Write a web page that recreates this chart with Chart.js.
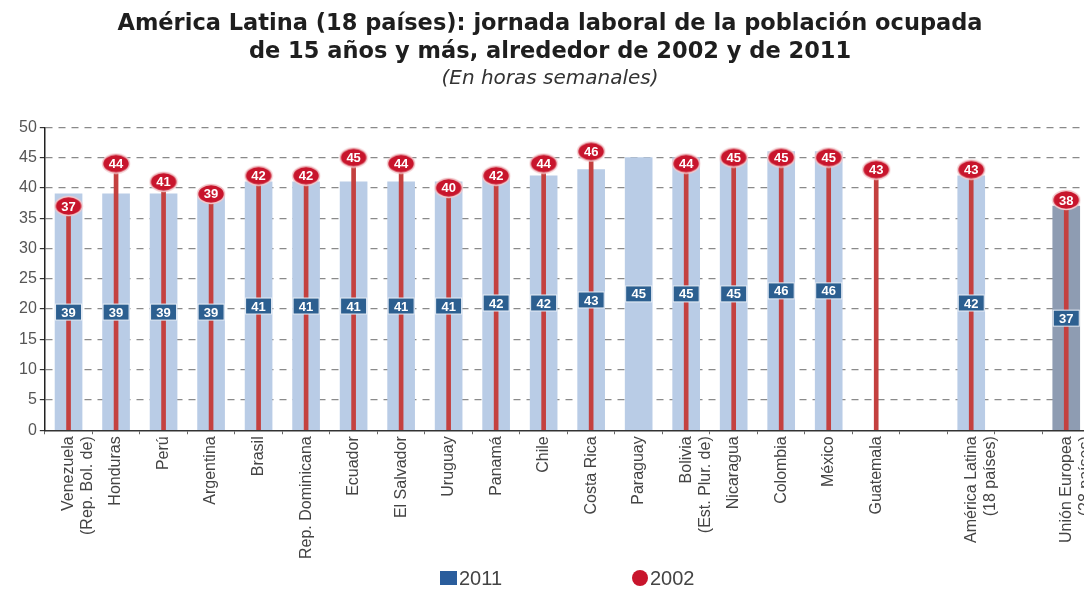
<!DOCTYPE html>
<html>
<head>
<meta charset="utf-8">
<script src="https://cdn.jsdelivr.net/npm/chart.js@4/dist/chart.umd.min.js"></script>
<style>
  html,body{margin:0;padding:0;background:#fff;}
  #wrap{width:1084px;height:589px;position:relative;}
</style>
</head>
<body>
<div id="wrap"><canvas id="chart" width="1084" height="589"></canvas></div>
<script>
/* ===== DATA ===== */
const categories = [
  ['Venezuela','(Rep. Bol. de)'], 'Honduras', 'Perú', 'Argentina', 'Brasil',
  'Rep. Dominicana', 'Ecuador', 'El Salvador', 'Uruguay', 'Panamá', 'Chile',
  'Costa Rica', 'Paraguay', ['Bolivia','(Est. Plur. de)'], 'Nicaragua',
  'Colombia', 'México', 'Guatemala', '', ['América Latina','(18 países)'], '',
  ['Unión Europea','(28 países)']
];
const hours2011 = [39,39,39,39,41,41,41,41,41,42,42,43,45,45,45,46,46,null,null,42,null,37];
const hours2002 = [37,44,41,39,42,42,45,44,40,42,44,46,null,44,45,45,45,43,null,43,null,38];
const yTicks = [0,5,10,15,20,25,30,35,40,45,50];

/* ===== STYLE ===== */
const BAR = '#b9cce6', BAR_UE = '#8e9cb2', STEM = '#c4403f', DOT = '#c8152c', BOX = '#2c5f90';

// ellipse marker for 2002
const marker = document.createElement('canvas');
marker.width = 30; marker.height = 22;
(function(){
  const c = marker.getContext('2d');
  c.beginPath();
  c.ellipse(15, 11, 13.5, 9.5, 0, 0, Math.PI*2);
  c.fillStyle = DOT; c.fill();
  c.lineWidth = 1.5; c.strokeStyle = '#f2c9cc'; c.stroke();
})();

const isUE = c => Array.isArray(c) && c[0].startsWith('Unión');

// the original lets the last column run into the right edge
const stretchRight = {
  id:'stretchRight',
  afterLayout(chart){
    const x = chart.scales.x, a = chart.chartArea, W = chart.width + 6;
    if (!x || a.right >= W) return;
    a.right = W; a.width = a.right - a.left;
    x.right = W; x.width = x.right - x.left;
    x.configure();
  }
};

// value labels
const valueLabels = {
  id:'valueLabels',
  afterDatasetsDraw(chart){
    const {ctx, scales:{y}} = chart;
    const bars = chart.getDatasetMeta(0).data;
    const dots = chart.getDatasetMeta(2).data;
    ctx.save();
    ctx.font = 'bold 13px "Liberation Sans", Arial, sans-serif';
    ctx.textAlign = 'center'; ctx.textBaseline = 'middle';
    hours2011.forEach((v,i)=>{
      if (v == null) return;
      const x = bars[i].x, cy = y.getPixelForValue(v/2);
      ctx.fillStyle = BOX;
      ctx.fillRect(x-13, cy-8, 26, 16);
      ctx.strokeStyle = '#e8eef6'; ctx.lineWidth = 1;
      ctx.strokeRect(x-13, cy-8, 26, 16);
      ctx.fillStyle = '#fff';
      ctx.fillText(v, x, cy+1);
    });
    hours2002.forEach((v,i)=>{
      if (v == null) return;
      ctx.fillStyle = '#fff';
      ctx.fillText(v, dots[i].x, dots[i].y+1);
    });
    ctx.restore();
  }
};

// legend at the bottom
const bottomLegend = {
  id:'bottomLegend',
  afterDraw(chart){
    const ctx = chart.ctx, yy = 578;
    ctx.save();
    ctx.font = '20px "Liberation Sans", Arial, sans-serif';
    ctx.textBaseline = 'middle'; ctx.textAlign = 'left';
    ctx.fillStyle = '#2a5d9c';
    ctx.fillRect(440, yy-7, 17, 14);
    ctx.fillStyle = '#444';
    ctx.fillText('2011', 459, yy+1);
    ctx.beginPath();
    ctx.arc(640, yy, 8, 0, Math.PI*2);
    ctx.fillStyle = DOT; ctx.fill();
    ctx.fillStyle = '#444';
    ctx.fillText('2002', 650, yy+1);
    ctx.restore();
  }
};

new Chart(document.getElementById('chart'), {
  type:'bar',
  data:{
    labels: categories,
    datasets:[
      {
        label:'2011', data:hours2011, order:3,
        backgroundColor: categories.map(c => isUE(c) ? BAR_UE : BAR),
        barThickness:27, grouped:false
      },
      {
        label:'2002 stem', data:hours2002, order:2,
        backgroundColor:STEM, barThickness:4, grouped:false
      },
      {
        type:'line', label:'2002', data:hours2002, order:1,
        showLine:false, pointStyle:marker, pointRadius:11, pointHoverRadius:11
      }
    ]
  },
  options:{
    responsive:false,
    animation:false,
    devicePixelRatio:1,
    layout:{padding:{left:16, right:0, top:0, bottom:28}},
    plugins:{
      legend:{display:false},
      tooltip:{enabled:false},
      title:{
        display:true,
        text:['América Latina (18 países): jornada laboral de la población ocupada',
              'de 15 años y más, alrededor de 2002 y de 2011'],
        font:{family:'"DejaVu Sans", sans-serif', size:22.5, weight:'bold', lineHeight:1.25},
        color:'#1e1e1e',
        padding:{top:10, bottom:2}
      },
      subtitle:{
        display:true,
        text:'(En horas semanales)',
        font:{family:'"DejaVu Sans", sans-serif', size:20, style:'italic', lineHeight:1.1},
        color:'#333',
        padding:{top:0, bottom:37}
      }
    },
    scales:{
      x:{
        grid:{drawOnChartArea:false, drawTicks:true, tickLength:4, color:'#666'},
        border:{color:'#333', width:1.5},
        ticks:{
          autoSkip:false, maxRotation:90, minRotation:90, padding:2,
          color:'#444', font:{family:'"Liberation Sans", Arial, sans-serif', size:16}
        }
      },
      y:{
        min:0, max:50,
        afterBuildTicks: s => { s.ticks = yTicks.map(v => ({value:v})); },
        grid:{
          color: c => c.tick && c.tick.value === 0 ? 'rgba(0,0,0,0)' : '#8a8a8a',
          lineWidth:1.2, tickLength:5, tickColor:'#333', tickBorderDash:[]
        },
        border:{color:'#222', width:1.5, dash:[7,6]},
        ticks:{
          color:'#555', padding:3,
          font:{family:'"Liberation Sans", Arial, sans-serif', size:16}
        }
      }
    }
  },
  plugins:[stretchRight, valueLabels, bottomLegend]
});
</script>
</body>
</html>
